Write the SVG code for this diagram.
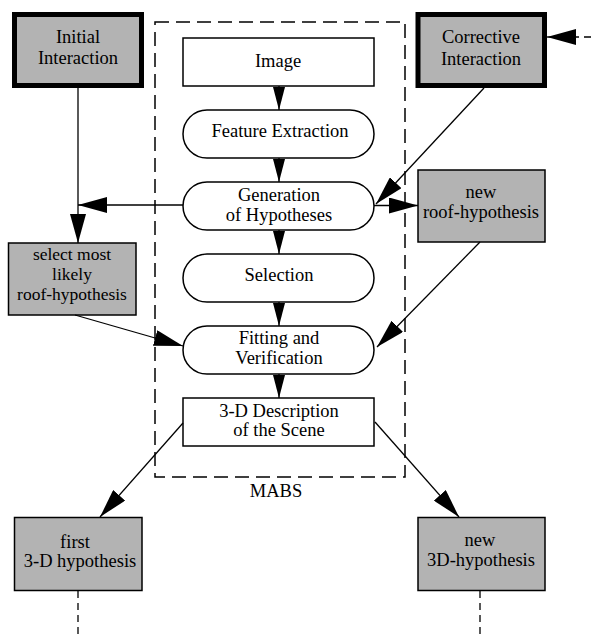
<svg xmlns="http://www.w3.org/2000/svg" width="591" height="637" viewBox="0 0 591 637">
<style>
text{font-family:"Liberation Serif","Times New Roman",serif;font-size:18.5px;fill:#000;text-anchor:middle}
.box{fill:#fff;stroke:#000;stroke-width:1.5}
.gray{fill:#b3b3b3;stroke:#000;stroke-width:1.5}
.thick{fill:#b3b3b3;stroke:#000;stroke-width:5}
.ln{fill:none;stroke:#000;stroke-width:1.3}
.big{marker-end:url(#ab)}
.sm{marker-end:url(#as)}
.dot{fill:none;stroke:#000;stroke-width:1.3;stroke-dasharray:7 5}
.tight{font-size:17.5px}
</style>
<defs>
<marker id="ab" markerUnits="userSpaceOnUse" viewBox="0 0 29 16" refX="29" refY="8" markerWidth="29" markerHeight="16" orient="auto"><path d="M0,0 L29,8 L0,16 z" fill="#000"/></marker>
<marker id="as" markerUnits="userSpaceOnUse" viewBox="0 0 23 12" refX="23" refY="6" markerWidth="23" markerHeight="12" orient="auto"><path d="M0,0 L23,6 L0,12 z" fill="#000"/></marker>
</defs>
<g id="mabs">
<rect x="155" y="22" width="250" height="455" fill="none" stroke="#000" stroke-width="1.5" stroke-dasharray="14 7"/>
<text x="276" y="497">MABS</text>
</g>
<g id="initial"><rect class="thick" x="14.5" y="14.5" width="127" height="71"/><text x="78" y="43">Initial</text><text x="78" y="64">Interaction</text></g>
<g id="corrective"><rect class="thick" x="418" y="14.5" width="126.5" height="71"/><text x="481" y="43">Corrective</text><text x="481" y="65">Interaction</text></g>
<g id="image"><rect class="box" x="183" y="38" width="191" height="48"/><text x="278" y="67">Image</text></g>
<g id="feature"><rect class="box" x="183" y="110" width="191" height="48" rx="24"/><text x="280" y="137">Feature Extraction</text></g>
<g id="generation"><rect class="box" x="183" y="182" width="191" height="48" rx="24"/><text x="279" y="201">Generation</text><text x="279" y="221">of Hypotheses</text></g>
<g id="selection"><rect class="box" x="183" y="254" width="191" height="48" rx="24"/><text x="279" y="281">Selection</text></g>
<g id="fitting"><rect class="box" x="183" y="326" width="191" height="48" rx="24"/><text x="279" y="344">Fitting and</text><text x="279" y="364">Verification</text></g>
<g id="description"><rect class="box" x="183" y="398" width="191" height="48"/><text x="279" y="417">3-D Description</text><text x="279" y="436">of the Scene</text></g>
<g id="newroof"><rect class="gray" x="418" y="170" width="127" height="72"/><text x="481" y="198">new</text><text x="481" y="218">roof-hypothesis</text></g>
<g id="select"><rect class="gray" x="8.5" y="243" width="127.5" height="72"/><text class="tight" x="72" y="260">select most</text><text class="tight" x="72" y="280">likely</text><text class="tight" x="72" y="300">roof-hypothesis</text></g>
<g id="first3d"><rect class="gray" x="14.5" y="517.5" width="127.5" height="73"/><text x="75" y="548">first</text><text x="80" y="567">3-D hypothesis</text></g>
<g id="new3d"><rect class="gray" x="418" y="517.5" width="127" height="73"/><text x="480" y="546">new</text><text x="481" y="566">3D-hypothesis</text></g>
<g id="connectors">
<line class="ln sm" x1="279" y1="86" x2="279" y2="110"/>
<line class="ln sm" x1="279" y1="158" x2="279" y2="182"/>
<line class="ln sm" x1="279" y1="230" x2="279" y2="254"/>
<line class="ln sm" x1="279" y1="302" x2="279" y2="326"/>
<line class="ln sm" x1="279" y1="374" x2="279" y2="398"/>
<line class="ln big" x1="78" y1="88" x2="78" y2="243"/>
<line class="ln big" x1="183" y1="205" x2="78" y2="205"/>
<line class="ln big" x1="374" y1="205.5" x2="418" y2="205.5"/>
<line class="ln big" x1="484" y1="88" x2="376" y2="204"/>
<line class="ln big" x1="480" y1="242" x2="377" y2="347"/>
<line class="ln big" x1="75" y1="315" x2="183" y2="346"/>
<line class="ln big" x1="183" y1="423" x2="100" y2="517"/>
<line class="ln big" x1="375" y1="422" x2="459" y2="517"/>
<line class="ln" x1="576" y1="37" x2="547" y2="37" marker-end="url(#ab)"/>
<line class="dot" x1="591" y1="37" x2="576" y2="37"/>
<line class="dot" x1="78" y1="591" x2="78" y2="637"/>
<line class="dot" x1="480" y1="591" x2="480" y2="637"/>
</g>
</svg>
